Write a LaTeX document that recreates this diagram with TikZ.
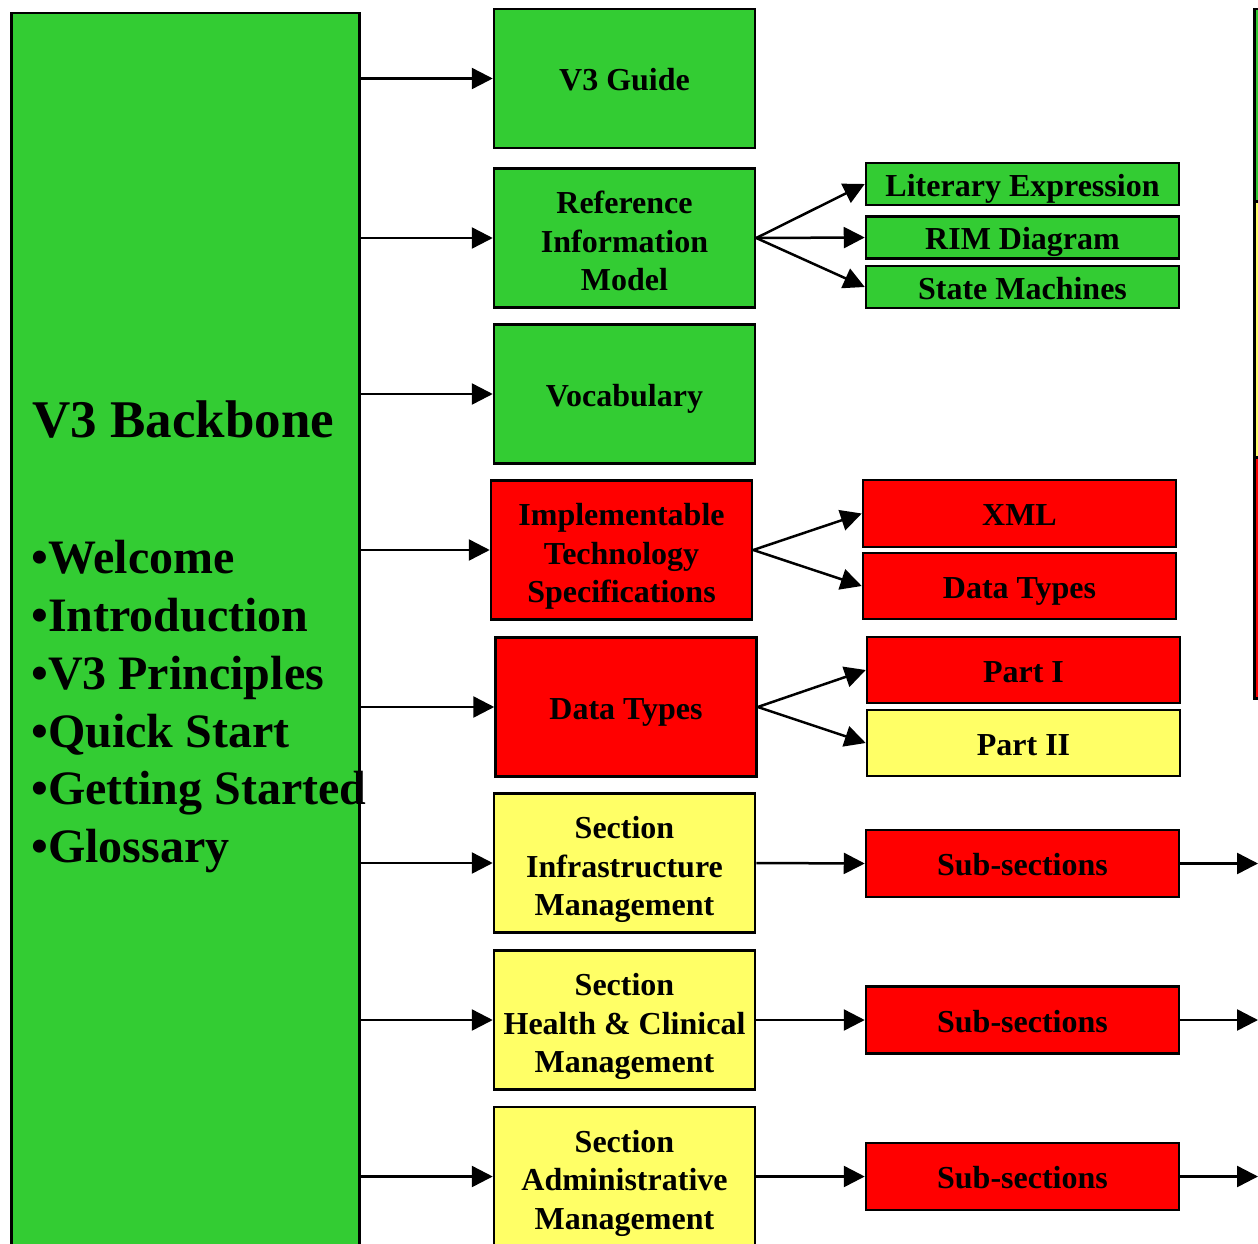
\documentclass[tikz,border=0pt]{standalone}
\usepackage{fontspec}
\setmainfont{Liberation Serif}
\usetikzlibrary{arrows.meta}
\definecolor{boxgreen}{HTML}{33CC33}
\definecolor{boxred}{HTML}{FF0000}
\definecolor{boxyellow}{HTML}{FFFF66}
% struts give every box text the same height and depth, so that
% lines with descenders are centred like lines without them
\newcommand\boxtopstrut{\rule{0pt}{33pt}}
\newcommand\boxbotstrut{\rule[-9pt]{0pt}{0pt}}
\newcommand\multitopstrut{\rule{0pt}{37pt}}
\tikzset{
  box/.style={draw=black, line width=2.5pt, inner sep=0pt, align=center,
    font=\fontsize{32}{38.5}\selectfont\bfseries,
    execute at begin node=\boxtopstrut, execute at end node=\boxbotstrut},
  gbox/.style={box, fill=boxgreen},
  rbox/.style={box, fill=boxred},
  ybox/.style={box, fill=boxyellow},
  midbox/.style={minimum width=261pt, minimum height=139pt},
  sidebox/.style={minimum width=313pt},
  arr/.style={line width=2.5pt, -{Triangle[length=21pt,width=21pt]}},
  bigtitle/.style={anchor=base west, inner sep=0pt, font=\fontsize{53}{60}\selectfont\bfseries},
  bullet/.style={anchor=base west, inner sep=0pt, font=\fontsize{48}{56}\selectfont\bfseries}
}
\begin{document}
\begin{tikzpicture}[x=1pt, y=-1pt]
\useasboundingbox (0,0) rectangle (1258,1244);
\clip (0,0) rectangle (1258,1244);

% backbone column
\node[gbox, minimum width=348pt, minimum height=1300pt, anchor=north west] (big) at (10,12) {};
\node[bigtitle] (title) at (32,437) {V3 Backbone};
\node[bullet] (b1) at (31,573) {•Welcome};
\node[bullet] (b2) at (31,631) {•Introduction};
\node[bullet] (b3) at (31,689) {•V3 Principles};
\node[bullet] (b4) at (31,747) {•Quick Start};
\node[bullet] (b5) at (31,804) {•Getting Started};
\node[bullet] (b6) at (31,862) {•Glossary};

% second column
\node[gbox, midbox] (guide) at (624.5,78.5) {V3 Guide};
\node[gbox, midbox] (rim) at (624.5,238) {\multitopstrut Reference\\Information\\Model};
\node[gbox, midbox] (vocab) at (624.5,394) {Vocabulary};
\node[rbox, midbox] (its) at (621.5,550) {\multitopstrut Implementable\\Technology\\Specifications};
\node[rbox, midbox] (dt) at (626,707) {Data Types};
\node[ybox, midbox] (infra) at (624.5,863) {\multitopstrut Section\\Infrastructure\\Management};
\node[ybox, midbox] (health) at (624.5,1020) {\multitopstrut Section\\Health \& Clinical\\Management};
\node[ybox, midbox] (admin) at (624.5,1176.5) {\multitopstrut Section\\Administrative\\Management};

% third column
\node[gbox, sidebox, minimum height=40pt] (lit) at (1022.5,184) {Literary Expression};
\node[gbox, sidebox, minimum height=39pt] (rimd) at (1022.5,237.5) {RIM Diagram};
\node[gbox, sidebox, minimum height=40pt] (state) at (1022.5,287) {State Machines};
\node[rbox, sidebox, minimum height=67pt] (xml) at (1019.5,513.5) {XML};
\node[rbox, sidebox, minimum height=66pt] (dt2) at (1019.5,586) {Data Types};
\node[rbox, sidebox, minimum height=66pt] (p1) at (1023.5,670) {Part I};
\node[ybox, sidebox, minimum height=66pt] (p2) at (1023.5,743) {Part II};
\node[rbox, sidebox, minimum height=67pt] (sub1) at (1022.5,863.5) {Sub-sections};
\node[rbox, sidebox, minimum height=67pt] (sub2) at (1022.5,1020) {Sub-sections};
\node[rbox, sidebox, minimum height=67pt] (sub3) at (1022.5,1176.5) {Sub-sections};

% far right column, only its left edge lies inside the page
\node[gbox, minimum width=60pt, minimum height=192pt, anchor=north west] (fr1) at (1253,8) {};
\node[ybox, minimum width=60pt, minimum height=256pt, anchor=north west] (fr2) at (1253,200) {};
\node[rbox, minimum width=60pt, minimum height=241pt, anchor=north west] (fr3) at (1253,456) {};
\coordinate (e1) at (1258,863.5);
\coordinate (e2) at (1258,1020);
\coordinate (e3) at (1258,1176.5);

% connectors from the backbone
\foreach \n in {guide,rim,vocab,its,dt,infra,health,admin}
  \draw[arr] (\n.west -| big.east) -- (\n.west);

% fan-outs
\draw[arr] (rim.east) -- (lit.west);
\draw[arr] (rim.east) -- (rimd.west);
\draw[arr] (rim.east) -- (state.west);
\draw[arr] (its.east) -- (xml.west);
\draw[arr] (its.east) -- (dt2.west);
\draw[arr] (dt.east) -- (p1.west);
\draw[arr] (dt.east) -- (p2.west);

% sections to sub-sections
\draw[arr] (infra.east) -- (sub1.west);
\draw[arr] (health.east) -- (sub2.west);
\draw[arr] (admin.east) -- (sub3.west);
\draw[arr] (sub1.east) -- (e1);
\draw[arr] (sub2.east) -- (e2);
\draw[arr] (sub3.east) -- (e3);
\end{tikzpicture}
\end{document}
